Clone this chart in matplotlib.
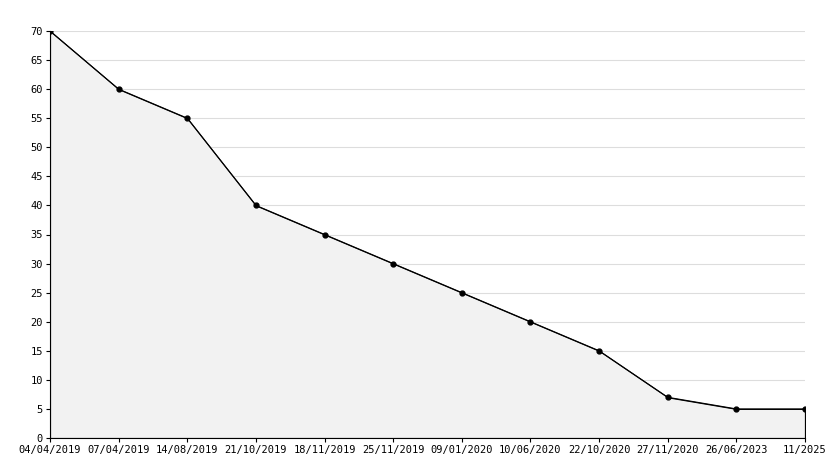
import matplotlib
matplotlib.use("Agg")
import matplotlib.pyplot as plt

labels = ["04/04/2019","07/04/2019","14/08/2019","21/10/2019","18/11/2019","25/11/2019",
          "09/01/2020","10/06/2020","22/10/2020","27/11/2020","26/06/2023","11/2025"]
values = [70,60,55,40,35,30,25,20,15,7,5,5]

fig = plt.figure(figsize=(8.34,4.68), dpi=100)
ax = fig.add_axes([50/834, 30/468, 755/834, 407/468])
x = list(range(len(values)))
ax.fill_between(x, values, 0, color="#f2f2f2", edgecolor="black", linewidth=0.8, zorder=2)
ax.plot(x, values, color="black", linewidth=0.8, marker="o", markersize=3.5, zorder=3)
ax.vlines(x[-1], 0, values[-1], color="black", linewidth=0.8, zorder=3)
ax.set_xlim(0, len(values)-1)
ax.set_ylim(0, 70)
ax.set_yticks(range(0, 71, 5))
ax.set_xticks(x)
ax.set_xticklabels(labels)
ax.yaxis.grid(True, color="#dddddd", linewidth=0.8, zorder=0)
ax.set_axisbelow(True)
for s in ["top","right"]:
    ax.spines[s].set_visible(False)
ax.tick_params(labelsize=7.5, length=3, direction="out", pad=2)
for t in ax.get_xticklabels() + ax.get_yticklabels():
    t.set_fontfamily("DejaVu Sans Mono")
fig.savefig("out.png", dpi=100)
